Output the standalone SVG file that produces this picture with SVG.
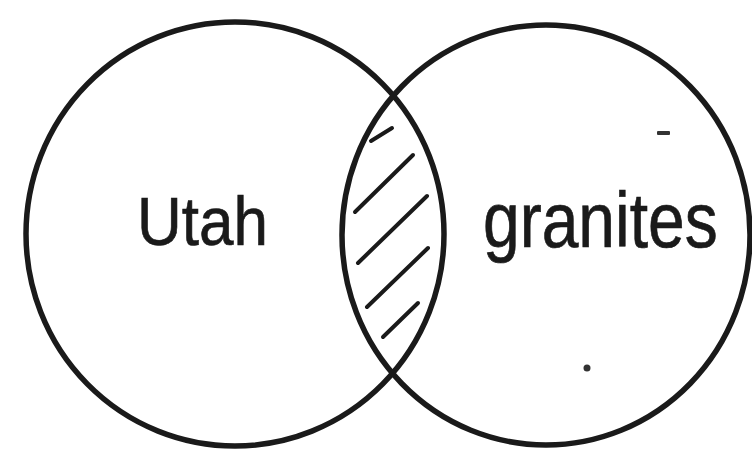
<svg xmlns="http://www.w3.org/2000/svg" width="752" height="450" viewBox="0 0 752 450">
<style>
.ring{fill:none;stroke:#1a1a1a;stroke-width:5.5}
.hatch{fill:none;stroke:#1a1a1a;stroke-width:4;stroke-linecap:round}
.lbl{font-family:"Liberation Sans",Arial,sans-serif;fill:#1a1a1a;stroke:#1a1a1a;stroke-width:0.6}
</style>
<rect width="752" height="450" fill="#ffffff"/>
<g id="utah">
<ellipse class="ring" cx="235" cy="234" rx="209" ry="212"/>
<text class="lbl" transform="translate(137,245) scale(1,1.1)" x="0" y="0" font-size="62">Utah</text>
</g>
<g id="granites">
<ellipse class="ring" cx="546" cy="235" rx="204" ry="210"/>
<text class="lbl" transform="translate(483,247) scale(1,1.18)" x="0" y="0" font-size="66">granites</text>
</g>
<g id="intersection">
<line class="hatch" x1="371" y1="141" x2="392" y2="128"/>
<line class="hatch" x1="355" y1="212" x2="413" y2="155"/>
<line class="hatch" x1="358" y1="263" x2="427" y2="196"/>
<line class="hatch" x1="367" y1="307" x2="428" y2="248"/>
<line class="hatch" x1="383" y1="337" x2="418" y2="303"/>
</g>
<g id="specks" fill="#333">
<rect x="657" y="131" width="13" height="4" rx="1"/>
<circle cx="587" cy="368" r="3.5"/>
</g>
</svg>
